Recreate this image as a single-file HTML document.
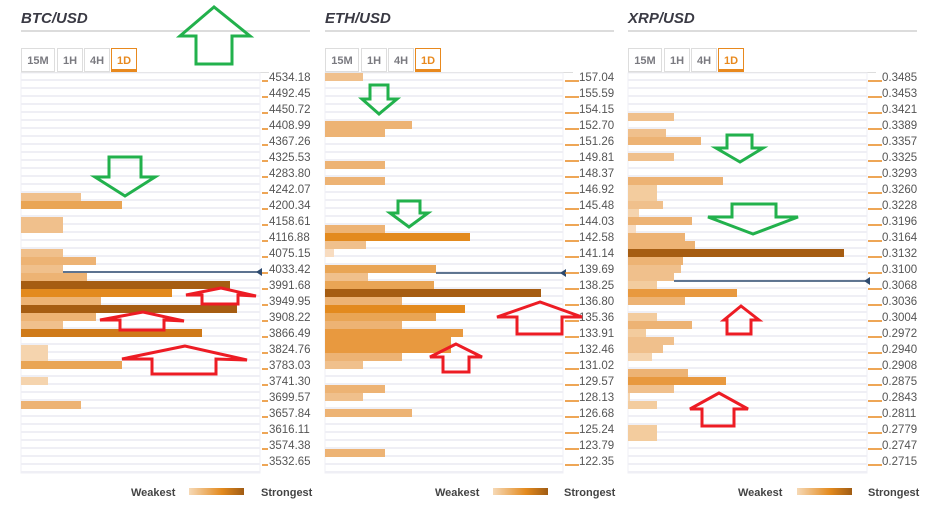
<!DOCTYPE html>
<html><head><meta charset="utf-8"><style>
html,body{margin:0;padding:0;background:#fff;width:933px;height:509px;overflow:hidden}
svg{display:block;font-family:"Liberation Sans",sans-serif}
.t{font-size:15px;font-weight:bold;font-style:italic;fill:#3a3a44}
.b{font-size:11px;font-weight:bold;fill:#7a7a80}
.l{font-size:11.5px;fill:#555}
.g{font-size:11px;font-weight:bold;fill:#444}
</style></head><body>
<svg width="933" height="509" viewBox="0 0 933 509">
<defs>
<pattern id="rows" x="0" y="73" width="8" height="8" patternUnits="userSpaceOnUse">
<rect width="8" height="8" fill="#fff"/><rect y="6" width="8" height="2" fill="#efeff5"/>
</pattern>
<linearGradient id="grd" x1="0" x2="1"><stop offset="0" stop-color="#f6d9b6"/><stop offset="0.6" stop-color="#e38a1e"/><stop offset="1" stop-color="#a05c14"/></linearGradient>
</defs>

<!-- BTC panel -->
<g>
<text class="t" x="21" y="23">BTC/USD</text>
<rect x="21" y="30" width="289" height="2" fill="#dcdcdc"/>
<rect x="21.5" y="48.5" width="33" height="23" fill="#fff" stroke="#ddd"/><text class="b" x="38" y="64" text-anchor="middle">15M</text>
<rect x="57.5" y="48.5" width="25" height="23" fill="#fff" stroke="#ddd"/><text class="b" x="70" y="64" text-anchor="middle">1H</text>
<rect x="84.5" y="48.5" width="25" height="23" fill="#fff" stroke="#ddd"/><text class="b" x="97" y="64" text-anchor="middle">4H</text>
<rect x="111.5" y="48.5" width="25" height="23" fill="#fff" stroke="#e8891e"/><rect x="111" y="69" width="26" height="3" fill="#e8891e"/><text class="b" x="124" y="64" text-anchor="middle" style="fill:#e8891e">1D</text>
<rect x="21" y="72" width="248" height="1" fill="#ddd"/>
<rect x="21" y="73" width="239" height="400" fill="url(#rows)" stroke="#efeff5"/>
<g>
<rect x="21" y="193" width="60" height="8" fill="#f0c08c"/>
<rect x="21" y="201" width="101" height="8" fill="#e9a555"/>
<rect x="21" y="217" width="42" height="16" fill="#f0c08c"/>
<rect x="21" y="249" width="42" height="8" fill="#f0c08c"/>
<rect x="21" y="257" width="75" height="8" fill="#edb374"/>
<rect x="21" y="265" width="42" height="8" fill="#f0c08c"/>
<rect x="21" y="273" width="66" height="8" fill="#edb374"/>
<rect x="21" y="281" width="209" height="8" fill="#a65d12"/>
<rect x="21" y="289" width="151" height="8" fill="#e38a1e"/>
<rect x="21" y="297" width="80" height="8" fill="#edb374"/>
<rect x="21" y="305" width="216" height="8" fill="#a65d12"/>
<rect x="21" y="313" width="75" height="8" fill="#edb374"/>
<rect x="21" y="321" width="42" height="8" fill="#f0c08c"/>
<rect x="21" y="329" width="181" height="8" fill="#cf7a19"/>
<rect x="21" y="345" width="27" height="16" fill="#f5d4ae"/>
<rect x="21" y="361" width="101" height="8" fill="#e9a555"/>
<rect x="21" y="377" width="27" height="8" fill="#f5d4ae"/>
<rect x="21" y="401" width="60" height="8" fill="#edb374"/>
</g>
<line x1="63" y1="272" x2="258" y2="272" stroke="#2d4a6e" stroke-width="1.5"/><polygon points="256,272 262,268 262,276" fill="#2d4a6e"/>
<g stroke="#e8891e" stroke-width="1.5">
<line x1="262" y1="81" x2="268" y2="81"/><line x1="262" y1="97" x2="268" y2="97"/><line x1="262" y1="113" x2="268" y2="113"/><line x1="262" y1="129" x2="268" y2="129"/><line x1="262" y1="145" x2="268" y2="145"/><line x1="262" y1="161" x2="268" y2="161"/><line x1="262" y1="177" x2="268" y2="177"/><line x1="262" y1="193" x2="268" y2="193"/><line x1="262" y1="209" x2="268" y2="209"/><line x1="262" y1="225" x2="268" y2="225"/><line x1="262" y1="241" x2="268" y2="241"/><line x1="262" y1="257" x2="268" y2="257"/><line x1="262" y1="273" x2="268" y2="273"/><line x1="262" y1="289" x2="268" y2="289"/><line x1="262" y1="305" x2="268" y2="305"/><line x1="262" y1="321" x2="268" y2="321"/><line x1="262" y1="337" x2="268" y2="337"/><line x1="262" y1="353" x2="268" y2="353"/><line x1="262" y1="369" x2="268" y2="369"/><line x1="262" y1="385" x2="268" y2="385"/><line x1="262" y1="401" x2="268" y2="401"/><line x1="262" y1="417" x2="268" y2="417"/><line x1="262" y1="433" x2="268" y2="433"/><line x1="262" y1="449" x2="268" y2="449"/><line x1="262" y1="465" x2="268" y2="465"/>
</g>
<g class="l">
<text class="l" x="269" y="81">4534.18</text><text class="l" x="269" y="97">4492.45</text><text class="l" x="269" y="113">4450.72</text><text class="l" x="269" y="129">4408.99</text><text class="l" x="269" y="145">4367.26</text><text class="l" x="269" y="161">4325.53</text><text class="l" x="269" y="177">4283.80</text><text class="l" x="269" y="193">4242.07</text><text class="l" x="269" y="209">4200.34</text><text class="l" x="269" y="225">4158.61</text><text class="l" x="269" y="241">4116.88</text><text class="l" x="269" y="257">4075.15</text><text class="l" x="269" y="273">4033.42</text><text class="l" x="269" y="289">3991.68</text><text class="l" x="269" y="305">3949.95</text><text class="l" x="269" y="321">3908.22</text><text class="l" x="269" y="337">3866.49</text><text class="l" x="269" y="353">3824.76</text><text class="l" x="269" y="369">3783.03</text><text class="l" x="269" y="385">3741.30</text><text class="l" x="269" y="401">3699.57</text><text class="l" x="269" y="417">3657.84</text><text class="l" x="269" y="433">3616.11</text><text class="l" x="269" y="449">3574.38</text><text class="l" x="269" y="465">3532.65</text>
</g>
<text class="g" x="131" y="496">Weakest</text><rect x="189" y="488" width="55" height="7" fill="url(#grd)"/><text class="g" x="261" y="496">Strongest</text>
</g>

<!-- ETH panel -->
<g>
<text class="t" x="325" y="23">ETH/USD</text>
<rect x="325" y="30" width="289" height="2" fill="#dcdcdc"/>
<rect x="325.5" y="48.5" width="33" height="23" fill="#fff" stroke="#ddd"/><text class="b" x="342" y="64" text-anchor="middle">15M</text>
<rect x="361.5" y="48.5" width="25" height="23" fill="#fff" stroke="#ddd"/><text class="b" x="374" y="64" text-anchor="middle">1H</text>
<rect x="388.5" y="48.5" width="25" height="23" fill="#fff" stroke="#ddd"/><text class="b" x="401" y="64" text-anchor="middle">4H</text>
<rect x="415.5" y="48.5" width="25" height="23" fill="#fff" stroke="#e8891e"/><rect x="415" y="69" width="26" height="3" fill="#e8891e"/><text class="b" x="428" y="64" text-anchor="middle" style="fill:#e8891e">1D</text>
<rect x="325" y="72" width="248" height="1" fill="#ddd"/>
<rect x="325" y="73" width="238" height="400" fill="url(#rows)" stroke="#efeff5"/>
<g>
<rect x="325" y="73" width="38" height="8" fill="#f0c08c"/>
<rect x="325" y="121" width="87" height="8" fill="#edb374"/>
<rect x="325" y="129" width="60" height="8" fill="#edb374"/>
<rect x="325" y="161" width="60" height="8" fill="#edb374"/>
<rect x="325" y="177" width="60" height="8" fill="#edb374"/>
<rect x="325" y="225" width="60" height="8" fill="#edb374"/>
<rect x="325" y="233" width="145" height="8" fill="#e38a1e"/>
<rect x="325" y="241" width="41" height="8" fill="#f0c08c"/>
<rect x="325" y="249" width="9" height="8" fill="#f8dcc0"/>
<rect x="325" y="265" width="111" height="8" fill="#e9a555"/>
<rect x="325" y="273" width="43" height="8" fill="#f0c08c"/>
<rect x="325" y="281" width="109" height="8" fill="#e9a555"/>
<rect x="325" y="289" width="216" height="8" fill="#a65d12"/>
<rect x="325" y="297" width="77" height="8" fill="#edb374"/>
<rect x="325" y="305" width="140" height="8" fill="#e38a1e"/>
<rect x="325" y="313" width="111" height="8" fill="#e9a555"/>
<rect x="325" y="321" width="77" height="8" fill="#edb374"/>
<rect x="325" y="329" width="138" height="8" fill="#e8993f"/>
<rect x="325" y="337" width="126" height="16" fill="#e8993f"/>
<rect x="325" y="353" width="77" height="8" fill="#edb374"/>
<rect x="325" y="361" width="38" height="8" fill="#f0c08c"/>
<rect x="325" y="385" width="60" height="8" fill="#edb374"/>
<rect x="325" y="393" width="38" height="8" fill="#f0c08c"/>
<rect x="325" y="409" width="87" height="8" fill="#edb374"/>
<rect x="325" y="449" width="60" height="8" fill="#edb374"/>
</g>
<line x1="436" y1="273" x2="562" y2="273" stroke="#2d4a6e" stroke-width="1.5"/><polygon points="560,273 566,269 566,277" fill="#2d4a6e"/>
<g stroke="#e8891e" stroke-width="1.5">
<line x1="565" y1="81" x2="579" y2="81"/><line x1="565" y1="97" x2="579" y2="97"/><line x1="565" y1="113" x2="579" y2="113"/><line x1="565" y1="129" x2="579" y2="129"/><line x1="565" y1="145" x2="579" y2="145"/><line x1="565" y1="161" x2="579" y2="161"/><line x1="565" y1="177" x2="579" y2="177"/><line x1="565" y1="193" x2="579" y2="193"/><line x1="565" y1="209" x2="579" y2="209"/><line x1="565" y1="225" x2="579" y2="225"/><line x1="565" y1="241" x2="579" y2="241"/><line x1="565" y1="257" x2="579" y2="257"/><line x1="565" y1="273" x2="579" y2="273"/><line x1="565" y1="289" x2="579" y2="289"/><line x1="565" y1="305" x2="579" y2="305"/><line x1="565" y1="321" x2="579" y2="321"/><line x1="565" y1="337" x2="579" y2="337"/><line x1="565" y1="353" x2="579" y2="353"/><line x1="565" y1="369" x2="579" y2="369"/><line x1="565" y1="385" x2="579" y2="385"/><line x1="565" y1="401" x2="579" y2="401"/><line x1="565" y1="417" x2="579" y2="417"/><line x1="565" y1="433" x2="579" y2="433"/><line x1="565" y1="449" x2="579" y2="449"/><line x1="565" y1="465" x2="579" y2="465"/>
</g>
<text class="l" x="579" y="81">157.04</text><text class="l" x="579" y="97">155.59</text><text class="l" x="579" y="113">154.15</text><text class="l" x="579" y="129">152.70</text><text class="l" x="579" y="145">151.26</text><text class="l" x="579" y="161">149.81</text><text class="l" x="579" y="177">148.37</text><text class="l" x="579" y="193">146.92</text><text class="l" x="579" y="209">145.48</text><text class="l" x="579" y="225">144.03</text><text class="l" x="579" y="241">142.58</text><text class="l" x="579" y="257">141.14</text><text class="l" x="579" y="273">139.69</text><text class="l" x="579" y="289">138.25</text><text class="l" x="579" y="305">136.80</text><text class="l" x="579" y="321">135.36</text><text class="l" x="579" y="337">133.91</text><text class="l" x="579" y="353">132.46</text><text class="l" x="579" y="369">131.02</text><text class="l" x="579" y="385">129.57</text><text class="l" x="579" y="401">128.13</text><text class="l" x="579" y="417">126.68</text><text class="l" x="579" y="433">125.24</text><text class="l" x="579" y="449">123.79</text><text class="l" x="579" y="465">122.35</text>
<text class="g" x="435" y="496">Weakest</text><rect x="493" y="488" width="55" height="7" fill="url(#grd)"/><text class="g" x="564" y="496">Strongest</text>
</g>

<!-- XRP panel -->
<g>
<text class="t" x="628" y="23">XRP/USD</text>
<rect x="628" y="30" width="289" height="2" fill="#dcdcdc"/>
<rect x="628.5" y="48.5" width="33" height="23" fill="#fff" stroke="#ddd"/><text class="b" x="645" y="64" text-anchor="middle">15M</text>
<rect x="664.5" y="48.5" width="25" height="23" fill="#fff" stroke="#ddd"/><text class="b" x="677" y="64" text-anchor="middle">1H</text>
<rect x="691.5" y="48.5" width="25" height="23" fill="#fff" stroke="#ddd"/><text class="b" x="704" y="64" text-anchor="middle">4H</text>
<rect x="718.5" y="48.5" width="25" height="23" fill="#fff" stroke="#e8891e"/><rect x="718" y="69" width="26" height="3" fill="#e8891e"/><text class="b" x="731" y="64" text-anchor="middle" style="fill:#e8891e">1D</text>
<rect x="628" y="72" width="248" height="1" fill="#ddd"/>
<rect x="628" y="73" width="239" height="400" fill="url(#rows)" stroke="#efeff5"/>
<g>
<rect x="628" y="113" width="46" height="8" fill="#f0c08c"/>
<rect x="628" y="129" width="38" height="8" fill="#f0c08c"/>
<rect x="628" y="137" width="73" height="8" fill="#edb374"/>
<rect x="628" y="153" width="46" height="8" fill="#f0c08c"/>
<rect x="628" y="177" width="95" height="8" fill="#edb374"/>
<rect x="628" y="185" width="29" height="16" fill="#f3cc9e"/>
<rect x="628" y="201" width="35" height="8" fill="#f0c08c"/>
<rect x="628" y="209" width="11" height="8" fill="#f5d4ae"/>
<rect x="628" y="217" width="64" height="8" fill="#edb374"/>
<rect x="628" y="225" width="8" height="8" fill="#f8dcc0"/>
<rect x="628" y="233" width="57" height="8" fill="#edb374"/>
<rect x="628" y="241" width="67" height="8" fill="#edb374"/>
<rect x="628" y="249" width="216" height="8" fill="#a65d12"/>
<rect x="628" y="257" width="55" height="8" fill="#edb374"/>
<rect x="628" y="265" width="53" height="8" fill="#f0c08c"/>
<rect x="628" y="273" width="46" height="8" fill="#f0c08c"/>
<rect x="628" y="281" width="29" height="8" fill="#f3cc9e"/>
<rect x="628" y="289" width="109" height="8" fill="#e8993f"/>
<rect x="628" y="297" width="57" height="8" fill="#edb374"/>
<rect x="628" y="313" width="29" height="8" fill="#f3cc9e"/>
<rect x="628" y="321" width="64" height="8" fill="#edb374"/>
<rect x="628" y="329" width="18" height="8" fill="#f3cc9e"/>
<rect x="628" y="337" width="46" height="8" fill="#f0c08c"/>
<rect x="628" y="345" width="35" height="8" fill="#f0c08c"/>
<rect x="628" y="353" width="24" height="8" fill="#f5d4ae"/>
<rect x="628" y="369" width="60" height="8" fill="#edb374"/>
<rect x="628" y="377" width="98" height="8" fill="#e8993f"/>
<rect x="628" y="385" width="46" height="8" fill="#f0c08c"/>
<rect x="628" y="393" width="2" height="8" fill="#f5d4ae"/>
<rect x="628" y="401" width="29" height="8" fill="#f3cc9e"/>
<rect x="628" y="425" width="29" height="16" fill="#f3cc9e"/>
</g>
<line x1="674" y1="281" x2="866" y2="281" stroke="#2d4a6e" stroke-width="1.5"/><polygon points="864,281 870,277 870,285" fill="#2d4a6e"/>
<g stroke="#e8891e" stroke-width="1.5">
<line x1="868" y1="81" x2="882" y2="81"/><line x1="868" y1="97" x2="882" y2="97"/><line x1="868" y1="113" x2="882" y2="113"/><line x1="868" y1="129" x2="882" y2="129"/><line x1="868" y1="145" x2="882" y2="145"/><line x1="868" y1="161" x2="882" y2="161"/><line x1="868" y1="177" x2="882" y2="177"/><line x1="868" y1="193" x2="882" y2="193"/><line x1="868" y1="209" x2="882" y2="209"/><line x1="868" y1="225" x2="882" y2="225"/><line x1="868" y1="241" x2="882" y2="241"/><line x1="868" y1="257" x2="882" y2="257"/><line x1="868" y1="273" x2="882" y2="273"/><line x1="868" y1="289" x2="882" y2="289"/><line x1="868" y1="305" x2="882" y2="305"/><line x1="868" y1="321" x2="882" y2="321"/><line x1="868" y1="337" x2="882" y2="337"/><line x1="868" y1="353" x2="882" y2="353"/><line x1="868" y1="369" x2="882" y2="369"/><line x1="868" y1="385" x2="882" y2="385"/><line x1="868" y1="401" x2="882" y2="401"/><line x1="868" y1="417" x2="882" y2="417"/><line x1="868" y1="433" x2="882" y2="433"/><line x1="868" y1="449" x2="882" y2="449"/><line x1="868" y1="465" x2="882" y2="465"/>
</g>
<text class="l" x="882" y="81">0.3485</text><text class="l" x="882" y="97">0.3453</text><text class="l" x="882" y="113">0.3421</text><text class="l" x="882" y="129">0.3389</text><text class="l" x="882" y="145">0.3357</text><text class="l" x="882" y="161">0.3325</text><text class="l" x="882" y="177">0.3293</text><text class="l" x="882" y="193">0.3260</text><text class="l" x="882" y="209">0.3228</text><text class="l" x="882" y="225">0.3196</text><text class="l" x="882" y="241">0.3164</text><text class="l" x="882" y="257">0.3132</text><text class="l" x="882" y="273">0.3100</text><text class="l" x="882" y="289">0.3068</text><text class="l" x="882" y="305">0.3036</text><text class="l" x="882" y="321">0.3004</text><text class="l" x="882" y="337">0.2972</text><text class="l" x="882" y="353">0.2940</text><text class="l" x="882" y="369">0.2908</text><text class="l" x="882" y="385">0.2875</text><text class="l" x="882" y="401">0.2843</text><text class="l" x="882" y="417">0.2811</text><text class="l" x="882" y="433">0.2779</text><text class="l" x="882" y="449">0.2747</text><text class="l" x="882" y="465">0.2715</text>
<text class="g" x="738" y="496">Weakest</text><rect x="797" y="488" width="55" height="7" fill="url(#grd)"/><text class="g" x="868" y="496">Strongest</text>
</g>

<!-- arrows -->
<g fill="none" stroke="#22b14c" stroke-width="3" stroke-linejoin="miter">
<polygon points="214,7 180,36 196,36 196,64 232,64 232,36 250,36"/>
<polygon points="125,196 95,177 109,177 109,157 141,157 141,177 155,177"/>
<polygon points="379,114 362,99 370,99 370,85 388,85 388,99 397,99"/>
<polygon points="409,227 390,213 398,213 398,201 420,201 420,213 428,213"/>
<polygon points="740,162 716,148 727,148 727,135 752,135 752,148 763,148"/>
<polygon points="753,234 708,217 732,217 732,204 776,204 776,217 798,217"/>
</g>
<g fill="none" stroke="#ed1c24" stroke-width="3" stroke-linejoin="miter">
<polygon points="221,288 186,295 202,295 202,304 238,304 238,295 256,296"/>
<polygon points="143,312 100,320 120,320 120,330 164,330 164,320 184,321"/>
<polygon points="185,346 122,359 152,359 152,374 216,374 216,359 247,360"/>
<polygon points="540,302 497,317 517,317 517,334 562,334 562,317 582,317"/>
<polygon points="456,344 430,357 443,357 443,372 469,372 469,357 482,357"/>
<polygon points="741,306 724,320 727,320 727,334 751,334 751,320 759,320"/>
<polygon points="719,393 690,409 702,409 702,426 734,426 734,409 748,409"/>
</g>
</svg>
</body></html>
